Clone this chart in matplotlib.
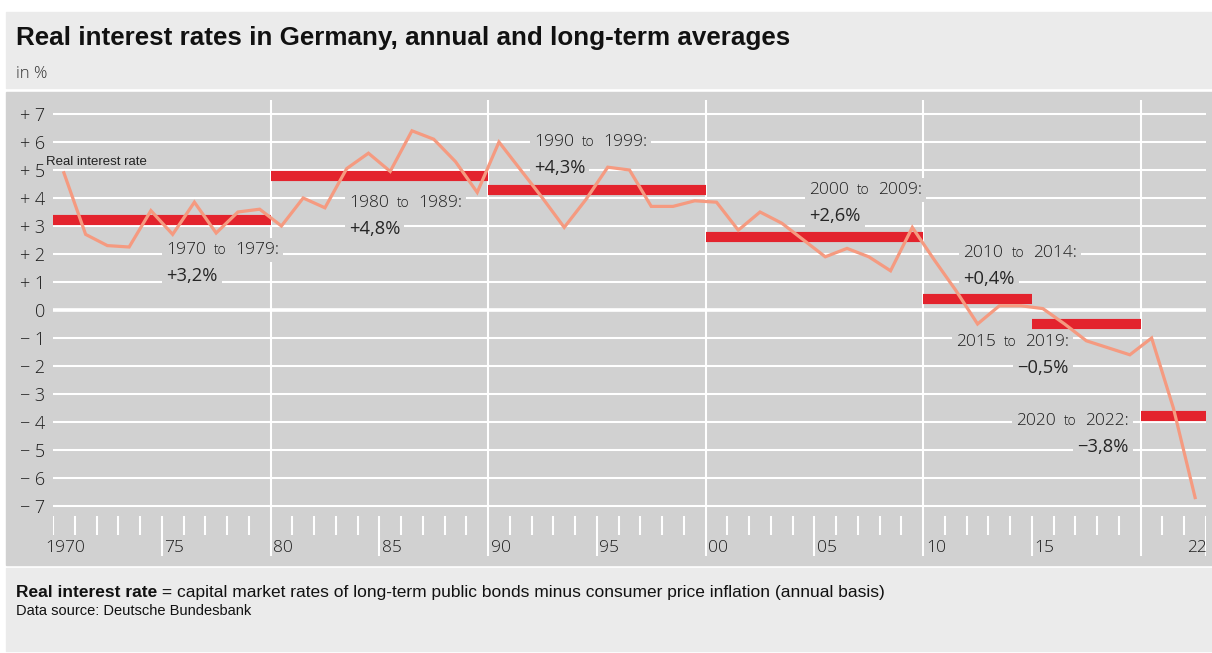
import matplotlib.pyplot as plt
from matplotlib.patches import Rectangle
from matplotlib.offsetbox import TextArea, HPacker, AnnotationBbox

# annual real interest rate, in %
years = list(range(1970, 2023))
real_rate = [
    4.9, 2.7, 2.3, 2.25, 3.55, 2.7, 3.85, 2.75, 3.5, 3.6,
    3.0, 4.0, 3.65, 5.05, 5.6, 4.95, 6.4, 6.1, 5.3, 4.2,
    6.0, 5.0, 4.0, 2.95, 3.95, 5.1, 5.0, 3.7, 3.7, 3.9,
    3.85, 2.85, 3.5, 3.1, 2.5, 1.9, 2.2, 1.9, 1.4, 2.95,
    1.8, 0.7, -0.5, 0.15, 0.15,
    0.05, -0.5, -1.1, -1.35, -1.6,
    -1.0, -3.5, -6.7,
]

# long-term averages
period_start = [1970, 1980, 1990, 2000, 2010, 2015, 2020]
period_end = [1979, 1989, 1999, 2009, 2014, 2019, 2022]
period_avg = [3.2, 4.8, 4.3, 2.6, 0.4, -0.5, -3.8]
period_text = ['+3,2%', '+4,8%', '+4,3%', '+2,6%', '+0,4%', '\u22120,5%', '\u22123,8%']

y_ticks = list(range(-7, 8))
y_labels = ['\u2212 %d' % -v if v < 0 else ('+ %d' % v if v > 0 else '0') for v in y_ticks]
x_label_years = [1970, 1975, 1980, 1985, 1990, 1995, 2000, 2005, 2010, 2015, 2022]
x_labels = ['1970', '75', '80', '85', '90', '95', '00', '05', '10', '15', '22']

# where the average labels sit (year, value, alignment)
label_pos = [(1975.2, 2.14, 'left'), (1983.6, 3.81, 'left'), (1992.1, 6.01, 'left'),
             (2004.75, 4.29, 'left'), (2011.85, 2.02, 'left'), (2016.7, -1.13, 'right'),
             (2019.45, -3.95, 'right')]
line_gap = 0.93

PANEL = '#d1d1d1'
BAND = '#ebebeb'
TXT = '#1e1e1e'
LINE = '#f59a80'
BAR = '#e3232d'
FONT = 'Open Sans'

W, H = 1212, 653
fig = plt.figure(figsize=(W / 100, H / 100), dpi=100)
fig.patch.set_facecolor('white')


def band(x0, y0, x1, y1, color):
    fig.patches.append(Rectangle((x0 / W, 1 - y1 / H), (x1 - x0) / W, (y1 - y0) / H,
                                 transform=fig.transFigure, color=color, zorder=-5))


band(6, 12, W, 88, BAND)
band(6, 92, W, 565, PANEL)
band(6, 568, W, 651, BAND)

ax = fig.add_axes([53 / W, 1 - 556 / H, (1206 - 53) / W, (556 - 100) / H])
ax.set_facecolor('none')
for s in ax.spines.values():
    s.set_visible(False)
ax.set_xlim(1970, 2023)
ax.set_ylim(-8.786, 7.5)

ax.set_yticks(y_ticks)
ax.set_yticklabels(y_labels, fontsize=13, color=TXT, family=FONT, weight='light')
ax.tick_params(axis='y', length=0, pad=5.5)
ax.set_xticks([])

# grid
ax.hlines([v for v in y_ticks if v != 0], 1970, 2023, color='white', lw=1.5, zorder=1)
ax.axhline(0, color='white', lw=2.6, zorder=1)
for d in range(1980, 2021, 10):
    ax.axvline(d, color='white', lw=1.5, zorder=1)

# year ticks along the bottom
xt = ax.get_xaxis_transform()
short = [y for y in range(1970, 2023) if y % 5 != 0 or y == 1970]
long_ = [y for y in range(1975, 2024, 5) if y % 10 != 0] + [2023]
ax.vlines(short, 0.046, 0.0877, transform=xt, color='white', lw=1.5)
ax.vlines(long_, 0.0, 0.0877, transform=xt, color='white', lw=1.5)

for yr, lab in zip(x_label_years, x_labels):
    xpos = yr - 0.35 if yr == 1970 else yr + 0.12
    ax.text(xpos, 0.0175, lab, transform=xt, ha='left', va='center',
            fontsize=12.5, color=TXT, family=FONT, weight='light')

# annual line and averages
ax.plot([y + 0.5 for y in years], real_rate, color=LINE, lw=2.3, zorder=4,
        solid_joinstyle='miter')
ax.hlines(period_avg, period_start, [e + 1 for e in period_end], color=BAR, lw=7.3,
          zorder=3)

ax.text(1969.7, 5.3, 'Real interest rate', fontsize=9.5, color='#222222',
        family='Liberation Sans', ha='left', va='center', zorder=5)

tp = dict(fontsize=12.5, color=TXT, family=FONT, weight='light')
tp_small = dict(fontsize=10, color=TXT, family=FONT, weight='light')
tp_pct = dict(fontsize=13.2, color='#262626', family=FONT)
for s, e, txt, (lx, ly, ha) in zip(period_start, period_end, period_text, label_pos):
    row = HPacker(children=[TextArea(str(s), textprops=tp), TextArea('to', textprops=tp_small),
                            TextArea('%d:' % e, textprops=tp)], align='baseline', pad=0, sep=6)
    al = (0, 0.5) if ha == 'left' else (1, 0.5)
    ab = AnnotationBbox(row, (lx, ly), xycoords='data', box_alignment=al, frameon=True,
                        pad=0.3, bboxprops=dict(facecolor=PANEL, edgecolor='none'), zorder=2)
    ax.add_artist(ab)
    ab2 = AnnotationBbox(TextArea(txt, textprops=tp_pct), (lx, ly - line_gap), xycoords='data',
                         box_alignment=al, frameon=True, pad=0.3,
                         bboxprops=dict(facecolor=PANEL, edgecolor='none'), zorder=2)
    ax.add_artist(ab2)

# header and footer
fig.text(16 / W, 1 - 38 / H, 'Real interest rates in Germany, annual and long-term averages',
         fontsize=18.7, weight='bold', family='Liberation Sans', color='#111111', va='center')
fig.text(16 / W, 1 - 74 / H, 'in %', fontsize=12, family=FONT, color='#333333', va='center',
         weight='light')

t1 = fig.text(16 / W, 1 - 600 / H, 'Real interest rate', fontsize=12.5, weight='bold',
              family='Liberation Sans', color='#111111', va='bottom')
ax.annotate(' = capital market rates of long-term public bonds minus consumer price '
            'inflation (annual basis)', xy=(1, 0), xycoords=t1, va='bottom', ha='left',
            fontsize=12.5, family='Liberation Sans', color='#111111',
            annotation_clip=False)
fig.text(16 / W, 1 - 611 / H, 'Data source: Deutsche Bundesbank', fontsize=10.5,
         family='Liberation Sans', color='#111111', va='center')

fig.savefig('out.png', dpi=100)
